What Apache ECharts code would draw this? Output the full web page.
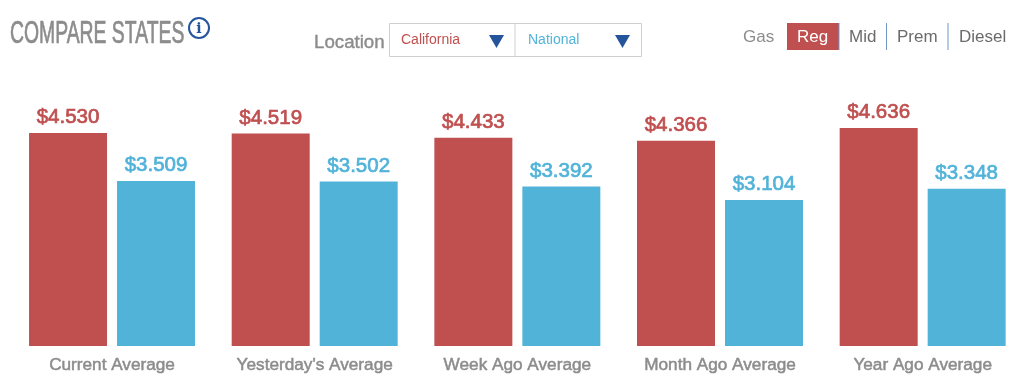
<!DOCTYPE html>
<html><head><meta charset="utf-8">
<style>html,body{margin:0;padding:0;background:#fff}#c{width:1024px;height:386px}</style>
<script src="https://cdn.jsdelivr.net/npm/echarts@6/dist/echarts.min.js"></script>
</head><body><div id="c"></div>
<script>
const categories = ["Current Average","Yesterday's Average","Week Ago Average","Month Ago Average","Year Ago Average"];
const california = [4.530,4.519,4.433,4.366,4.636];
const national = [3.509,3.502,3.392,3.104,3.348];
const RED='#c04f4f', BLUE='#52b3d9', GREY='#8c8c8c', NAVY='#24559c';
const F='"Liberation Sans",Arimo,Helvetica,sans-serif';
const chart = echarts.init(document.getElementById('c'),null,{renderer:'canvas'});
function lab(color){return {show:true,position:'top',distance:5,color:color,fontFamily:F,fontSize:20.5,fontWeight:'normal',textBorderColor:color,textBorderWidth:0.7,formatter:p=>'$'+p.value.toFixed(3)};}
function t(x,y,text,size,color,extra){return {type:'text',x:x,y:y,style:Object.assign({text:text,fontSize:size,fill:color,fontFamily:F,textVerticalAlign:'middle'},extra||{})};}
function tri(x,y){return {type:'polygon',shape:{points:[[x,y],[x+15,y],[x+7.5,y+13]]},style:{fill:NAVY}};}
chart.setOption({
  animation:false,
  grid:{left:10.7,width:1013.5,top:111,height:235},
  xAxis:{type:'category',data:categories,axisLine:{show:false},axisTick:{show:false},
    axisLabel:{color:GREY,fontFamily:F,fontSize:17.2,margin:11,fontWeight:'normal',interval:0,textBorderColor:GREY,textBorderWidth:0.5}},
  yAxis:{type:'value',min:0,max:5,show:false},
  series:[
    {name:'California',type:'bar',data:california,barWidth:78,barGap:'12.8%',itemStyle:{color:RED},label:lab(RED)},
    {name:'National',type:'bar',data:national,barWidth:78,barGap:'12.8%',itemStyle:{color:BLUE},label:lab(BLUE)}
  ],
  graphic:[
    Object.assign(t(10,35,'COMPARE STATES',30.5,GREY,{fontWeight:'normal',stroke:GREY,lineWidth:0.7}),{scaleX:0.635}),
    {type:'circle',shape:{cx:199,cy:28,r:10},style:{fill:'#fff',stroke:NAVY,lineWidth:2}},
    t(199,29,'i',14,NAVY,{fontFamily:'"DejaVu Serif",serif',fontWeight:'bold',textAlign:'center'}),
    t(314,43,'Location',18.7,GREY,{stroke:GREY,lineWidth:0.4}),
    {type:'rect',shape:{x:389.5,y:23.5,width:252,height:33},style:{fill:'#fff',stroke:'#cfcfcf',lineWidth:1}},
    {type:'line',shape:{x1:515,y1:24,x2:515,y2:56},style:{stroke:'#cfcfcf',lineWidth:1}},
    t(401,40,'California',14,RED),
    t(528,40,'National',14,BLUE),
    tri(489,35),tri(615,35),
    t(743,37,'Gas',17,GREY),
    {type:'rect',shape:{x:787,y:23,width:52,height:27},style:{fill:RED}},
    t(797,37,'Reg',17,'#fff'),
    {type:'line',shape:{x1:839,y1:23,x2:839,y2:50},style:{stroke:'#6f97c9',lineWidth:1}},
    t(849,37,'Mid',17,'#6b6b6b'),
    {type:'line',shape:{x1:886.5,y1:23,x2:886.5,y2:50},style:{stroke:'#6f97c9',lineWidth:1}},
    t(897,37,'Prem',17,'#6b6b6b'),
    {type:'line',shape:{x1:948,y1:23,x2:948,y2:50},style:{stroke:'#6f97c9',lineWidth:1}},
    t(959,37,'Diesel',17,'#6b6b6b')
  ]
});
</script></body></html>
